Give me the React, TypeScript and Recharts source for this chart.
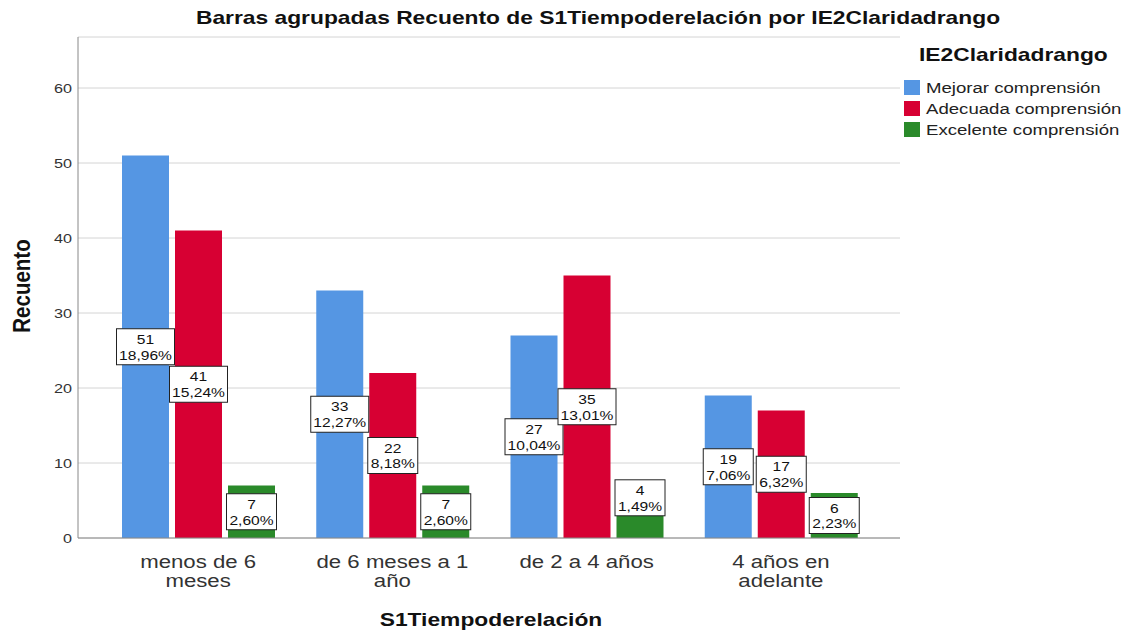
import React from "react";
import { BarChart, Bar, XAxis, YAxis, CartesianGrid, LabelList } from "recharts";

// ─── Data ────────────────────────────────────────────────
const categories = [
  ["menos de 6", "meses"],
  ["de 6 meses a 1", "año"],
  ["de 2 a 4 años"],
  ["4 años en", "adelante"],
];
const mejorar = [51, 33, 27, 19];
const adecuada = [41, 22, 35, 17];
const excelente = [7, 7, 4, 6];
const mejorarPct = ["18,96%", "12,27%", "10,04%", "7,06%"];
const adecuadaPct = ["15,24%", "8,18%", "13,01%", "6,32%"];
const excelentePct = ["2,60%", "2,60%", "1,49%", "2,23%"];
const yTicks = [0, 10, 20, 30, 40, 50, 60];

const series = [
  { key: "mejorar", name: "Mejorar comprensión", color: "#5596e3", pct: mejorarPct },
  { key: "adecuada", name: "Adecuada comprensión", color: "#d70033", pct: adecuadaPct },
  { key: "excelente", name: "Excelente comprensión", color: "#2a8a2a", pct: excelentePct },
];

const data = categories.map((lines, i) => ({
  cat: lines.join(" "),
  mejorar: mejorar[i],
  adecuada: adecuada[i],
  excelente: excelente[i],
}));

const FONT = "Arial, 'Liberation Sans', sans-serif";
const SX = 1.2; // the reference text is slightly stretched horizontally

// ─── Axis ticks ──────────────────────────────────────────
function CatTick(props: any) {
  const { x, y, index } = props;
  const lines = categories[index] || [];
  return (
    <g transform={`translate(${x},${y}) scale(${SX},1)`}>
      <text x={0} y={0} textAnchor="middle" fontSize={18.5} fill="#333" fontFamily={FONT}>
        {lines.map((l, k) => (
          <tspan key={k} x={0} dy={k === 0 ? 22 : 19}>
            {l}
          </tspan>
        ))}
      </text>
    </g>
  );
}

function ValTick(props: any) {
  const { x, y, payload } = props;
  return (
    <g transform={`translate(${x + 2},${y}) scale(${SX},1)`}>
      <text x={0} y={5} textAnchor="end" fontSize={13.5} fill="#333" fontFamily={FONT}>
        {payload.value}
      </text>
    </g>
  );
}

// ─── Boxed value labels ──────────────────────────────────
function makeBoxLabel(pct: string[]) {
  return function BoxLabel(props: any) {
    const { x, y, width, height, value, index } = props;
    const p = pct[index];
    const w = p.length * 8 + 10;
    const h = 36;
    const cx = x + width / 2;
    // short bars: SPSS lifts the box above the bar
    const cy = height < h ? y + height / 2 - h * 0.7 : y + height / 2;
    return (
      <g>
        <rect x={cx - w / 2} y={cy - h / 2} width={w} height={h} fill="#fff" stroke="#222" strokeWidth={1} />
        <g transform={`translate(${cx},${cy}) scale(${SX},1)`}>
          <text x={0} y={-3} textAnchor="middle" fontSize={13} fill="#111" fontFamily={FONT}>
            {value}
          </text>
          <text x={0} y={13} textAnchor="middle" fontSize={13} fill="#111" fontFamily={FONT}>
            {p}
          </text>
        </g>
      </g>
    );
  };
}

// ─── Stretched HTML text helper ──────────────────────────
function Stretch({ left, top, rotate, anchor, style, children }: any) {
  const tr =
    anchor === "left"
      ? `scaleX(${SX}) translate(0,-50%)`
      : `scaleX(${SX})${rotate ? " rotate(-90deg)" : ""} translate(-50%,-50%)`;
  return (
    <div style={{ position: "absolute", left, top, width: 0, height: 0 }}>
      <div
        style={{
          position: "absolute",
          left: 0,
          top: 0,
          whiteSpace: "nowrap",
          transformOrigin: "0 0",
          transform: tr,
          ...style,
        }}
      >
        {children}
      </div>
    </div>
  );
}

// ─── Component ───────────────────────────────────────────
export default function App() {
  const bold = { fontWeight: "bold", color: "#111" };
  return (
    <div
      style={{
        position: "absolute",
        left: 0,
        top: 0,
        width: 1133,
        height: 632,
        background: "#fff",
        fontFamily: FONT,
      }}
    >
      <BarChart
        width={1133}
        height={632}
        data={data}
        margin={{ top: 37, right: 233, left: 48, bottom: 0 }}
        barGap={6}
        barSize={47}
      >
        <CartesianGrid vertical={false} stroke="#d4d4d4" />
        <XAxis
          dataKey="cat"
          height={94}
          padding={{ left: 23, right: 22 }}
          tick={<CatTick />}
          tickLine={false}
          axisLine={{ stroke: "#888" }}
          interval={0}
        />
        <YAxis
          width={30}
          domain={[0, 66.8]}
          ticks={yTicks}
          tick={<ValTick />}
          tickLine={false}
          axisLine={{ stroke: "#888" }}
        />
        {series.map((s) => (
          <Bar key={s.key} dataKey={s.key} name={s.name} fill={s.color} isAnimationActive={false}>
            <LabelList dataKey={s.key} content={makeBoxLabel(s.pct)} />
          </Bar>
        ))}
      </BarChart>

      {/* Title and axis titles */}
      <Stretch left={598} top={18} style={{ ...bold, fontSize: 19 }}>
        Barras agrupadas Recuento de S1Tiempoderelación por IE2Claridadrango
      </Stretch>
      <Stretch left={491} top={620} style={{ ...bold, fontSize: 19 }}>
        S1Tiempoderelación
      </Stretch>
      <Stretch left={22} top={286} rotate style={{ ...bold, fontSize: 20.5 }}>
        Recuento
      </Stretch>

      {/* Legend */}
      <Stretch left={919} top={55} anchor="left" style={{ ...bold, fontSize: 19 }}>
        IE2Claridadrango
      </Stretch>
      {series.map((s, i) => (
        <React.Fragment key={s.key}>
          <div
            style={{
              position: "absolute",
              left: 904,
              top: 80 + i * 21,
              width: 16,
              height: 15,
              background: s.color,
            }}
          />
          <Stretch left={926} top={88 + i * 21} anchor="left" style={{ fontSize: 15.5, color: "#222" }}>
            {s.name}
          </Stretch>
        </React.Fragment>
      ))}
    </div>
  );
}
